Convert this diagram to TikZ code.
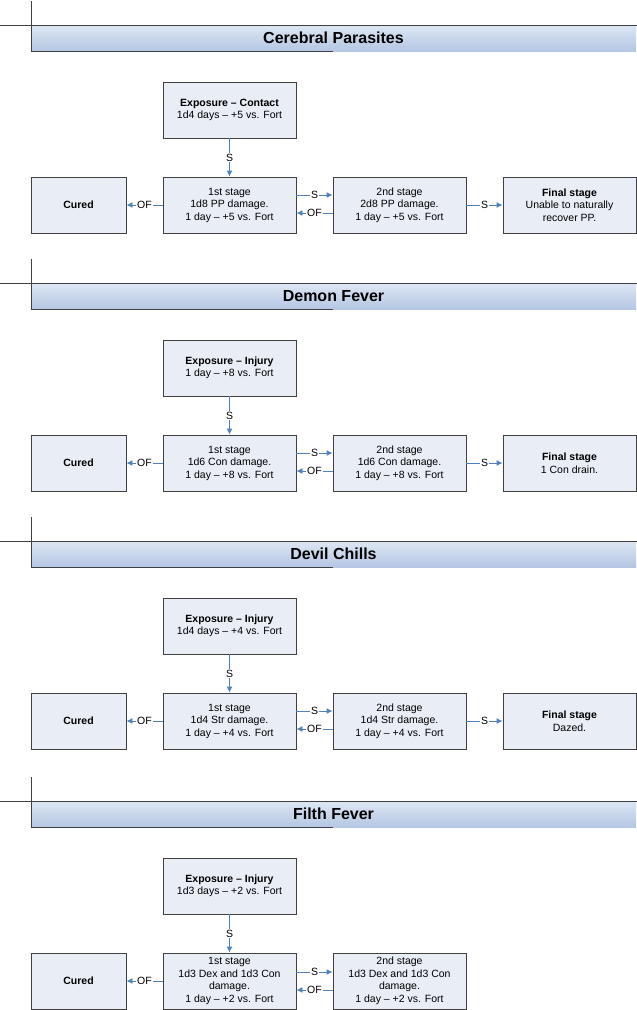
\documentclass[tikz,border=0pt]{standalone}
\usepackage{fontspec}
\setmainfont{Liberation Sans}
\usetikzlibrary{arrows.meta}

\definecolor{boxfill}{RGB}{233,237,246}
\definecolor{boxline}{RGB}{64,64,64}
\definecolor{flowblue}{RGB}{79,129,189}
\definecolor{bartop}{RGB}{222,231,243}
\definecolor{barbottom}{RGB}{180,198,228}

\tikzset{
  stagebox/.style={draw=boxline, fill=boxfill, line width=0.9pt,
    minimum width=133pt, minimum height=56pt, inner sep=0pt, align=center,
    font=\fontsize{10.5}{12.5}\selectfont},
  curedbox/.style={stagebox, minimum width=95pt},
  flow/.style={draw=flowblue, line width=0.9pt, -{Latex[length=6pt,width=6pt]}},
  flowlabel/.style={fill=white, inner sep=1pt, font=\fontsize{10.5}{12.5}\selectfont}
}

\begin{document}
\begin{tikzpicture}[x=1pt,y=-1pt]
  \useasboundingbox (0,0) rectangle (637,1010);

  % header bars
  \foreach \s/\title in {0/Cerebral Parasites, 258/Demon Fever, 516/Devil Chills, 776/Filth Fever} {
    \shade[top color=bartop, bottom color=barbottom] (31,\s+25) rectangle (636,\s+51);
    \draw[boxline, line width=0.9pt] (0,\s+25) -- (637,\s+25);
    \draw[boxline, line width=0.9pt] (31,\s+1) -- (31,\s+51) -- (333,\s+51);
    \node[font=\fontsize{16}{19}\selectfont\bfseries] (title\s) at (333.5,\s+38) {\title};
  }

  % Cerebral Parasites
  \node[stagebox] (expoA) at (229.5,110) {\textbf{Exposure – Contact}\\1d4 days – +5 vs. Fort};
  \node[curedbox] (curedA) at (78.5,205) {\textbf{Cured}};
  \node[stagebox] (firstA) at (229.5,205) {1st stage\\1d8 PP damage.\\1 day – +5 vs. Fort};
  \node[stagebox] (secondA) at (399.5,205) {2nd stage\\2d8 PP damage.\\1 day – +5 vs. Fort};
  \node[stagebox] (finalA) at (569.5,205) {\textbf{Final stage}\\Unable to naturally\\recover PP.};
  \draw[flow] (expoA) -- node[flowlabel] {S} (firstA);
  \draw[flow] (firstA) -- node[flowlabel] {OF} (curedA);
  \draw[flow] ([yshift=10pt]firstA.east) -- node[flowlabel] {S} ([yshift=10pt]secondA.west);
  \draw[flow] ([yshift=-8pt]secondA.west) -- node[flowlabel] {OF} ([yshift=-8pt]firstA.east);
  \draw[flow] (secondA) -- node[flowlabel] {S} (finalA);

  % Demon Fever
  \node[stagebox] (expoB) at (229.5,368) {\textbf{Exposure – Injury}\\1 day – +8 vs. Fort};
  \node[curedbox] (curedB) at (78.5,463) {\textbf{Cured}};
  \node[stagebox] (firstB) at (229.5,463) {1st stage\\1d6 Con damage.\\1 day – +8 vs. Fort};
  \node[stagebox] (secondB) at (399.5,463) {2nd stage\\1d6 Con damage.\\1 day – +8 vs. Fort};
  \node[stagebox] (finalB) at (569.5,463) {\textbf{Final stage}\\1 Con drain.};
  \draw[flow] (expoB) -- node[flowlabel] {S} (firstB);
  \draw[flow] (firstB) -- node[flowlabel] {OF} (curedB);
  \draw[flow] ([yshift=10pt]firstB.east) -- node[flowlabel] {S} ([yshift=10pt]secondB.west);
  \draw[flow] ([yshift=-8pt]secondB.west) -- node[flowlabel] {OF} ([yshift=-8pt]firstB.east);
  \draw[flow] (secondB) -- node[flowlabel] {S} (finalB);

  % Devil Chills
  \node[stagebox] (expoC) at (229.5,626) {\textbf{Exposure – Injury}\\1d4 days – +4 vs. Fort};
  \node[curedbox] (curedC) at (78.5,721) {\textbf{Cured}};
  \node[stagebox] (firstC) at (229.5,721) {1st stage\\1d4 Str damage.\\1 day – +4 vs. Fort};
  \node[stagebox] (secondC) at (399.5,721) {2nd stage\\1d4 Str damage.\\1 day – +4 vs. Fort};
  \node[stagebox] (finalC) at (569.5,721) {\textbf{Final stage}\\Dazed.};
  \draw[flow] (expoC) -- node[flowlabel] {S} (firstC);
  \draw[flow] (firstC) -- node[flowlabel] {OF} (curedC);
  \draw[flow] ([yshift=10pt]firstC.east) -- node[flowlabel] {S} ([yshift=10pt]secondC.west);
  \draw[flow] ([yshift=-8pt]secondC.west) -- node[flowlabel] {OF} ([yshift=-8pt]firstC.east);
  \draw[flow] (secondC) -- node[flowlabel] {S} (finalC);

  % Filth Fever
  \node[stagebox] (expoD) at (229.5,886) {\textbf{Exposure – Injury}\\1d3 days – +2 vs. Fort};
  \node[curedbox] (curedD) at (78.5,981) {\textbf{Cured}};
  \node[stagebox] (firstD) at (229.5,981) {1st stage\\1d3 Dex and 1d3 Con\\damage.\\1 day – +2 vs. Fort};
  \node[stagebox] (secondD) at (399.5,981) {2nd stage\\1d3 Dex and 1d3 Con\\damage.\\1 day – +2 vs. Fort};
  \draw[flow] (expoD) -- node[flowlabel] {S} (firstD);
  \draw[flow] (firstD) -- node[flowlabel] {OF} (curedD);
  \draw[flow] ([yshift=9pt]firstD.east) -- node[flowlabel] {S} ([yshift=9pt]secondD.west);
  \draw[flow] ([yshift=-9pt]secondD.west) -- node[flowlabel] {OF} ([yshift=-9pt]firstD.east);

\end{tikzpicture}
\end{document}
